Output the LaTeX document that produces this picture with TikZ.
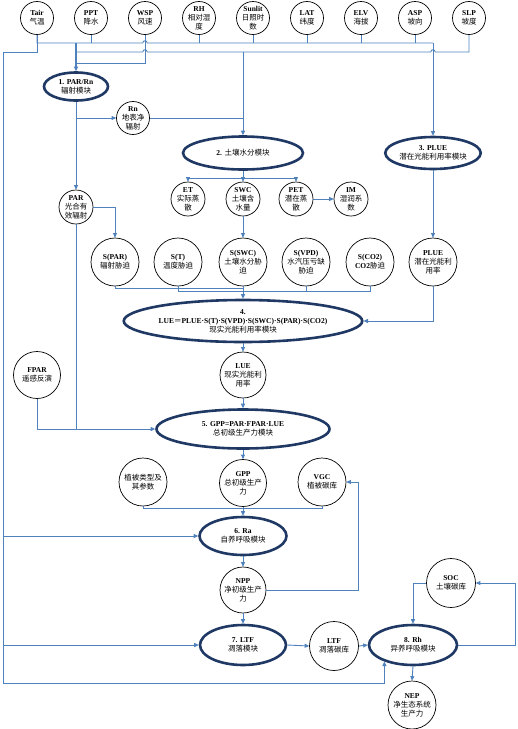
\documentclass[tikz,border=0pt]{standalone}
\usepackage{fontspec}
\setmainfont{Liberation Serif}
\newfontfamily\cjk{Noto Sans CJK SC}
\usetikzlibrary{shapes.geometric,arrows.meta}
\definecolor{navy}{RGB}{31,56,100}
\definecolor{lnk}{RGB}{79,129,189}
\newcommand{\zh}[1]{{\cjk\mdseries #1}}
\begin{document}
\begin{tikzpicture}[x=1pt,y=-1pt,
  font=\fontsize{7.5}{9}\selectfont\bfseries,
  circ/.style={circle,draw=black,line width=0.7pt,inner sep=0pt,minimum size=#1,align=center,fill=white},
  circ/.default=33,
  mod/.style={ellipse,draw=navy,line width=2.6pt,inner sep=0pt,align=center,fill=white},
  conn/.style={draw=lnk,line width=0.9pt},
  arr/.style={conn,-{Triangle[length=4.5pt,width=4pt]}}]
\useasboundingbox (0,0) rectangle (518,729);
% top row
\node[circ] (Tair) at (37,18) {Tair\\\zh{气温}};
\node[circ] (PPT) at (91,18) {PPT\\\zh{降水}};
\node[circ] (WSP) at (145,18) {WSP\\\zh{风速}};
\node[circ] (RH) at (199,18) {RH\\\zh{相对湿}\\\zh{度}};
\node[circ] (Sun) at (253,18) {Sunlit\\\zh{日照时}\\\zh{数}};
\node[circ] (LAT) at (307,18) {LAT\\\zh{纬度}};
\node[circ] (ELV) at (361,18) {ELV\\\zh{海拔}};
\node[circ] (ASP) at (415,18) {ASP\\\zh{坡向}};
\node[circ] (SLP) at (469,18) {SLP\\\zh{坡度}};
% modules
\node[mod,minimum width=64,minimum height=28] (E1) at (76,86.5) {1. PAR/Rn\\\zh{辐射模块}};
\node[mod,minimum width=120,minimum height=33] (E2) at (243,153) {2. \zh{土壤水分模块}};
\node[mod,minimum width=86,minimum height=32] (E3) at (433,153) {3. PLUE\\\zh{潜在光能利用率模块}};
\node[mod,minimum width=196,minimum height=42] (E4) at (243,321) {4.\\LUE\zh{＝}PLUE·S(T)·S(VPD)·S(SWC)·S(PAR)·S(CO2)\\\zh{现实光能利用率模块}};
\node[mod,minimum width=173,minimum height=39] (E5) at (243,429) {5. GPP=PAR·FPAR·LUE\\\zh{总初级生产力模块}};
\node[mod,minimum width=87,minimum height=38] (E6) at (243,536) {6. Ra\\\zh{自养呼吸模块}};
\node[mod,minimum width=86,minimum height=40] (E7) at (243,645) {7. LTF\\\zh{凋落模块}};
\node[mod,minimum width=88,minimum height=40] (E8) at (413,645) {8. Rh\\\zh{异养呼吸模块}};
% small circles
\node[circ] (Rn) at (133,118) {Rn\\\zh{地表净}\\\zh{辐射}};
\node[circ=34] (PAR) at (76,207) {PAR\\\zh{光合有}\\\zh{效辐射}};
\node[circ=34] (ET) at (188,199) {ET\\\zh{实际蒸}\\\zh{散}};
\node[circ=34] (SWC) at (243,199) {SWC\\\zh{土壤含}\\\zh{水量}};
\node[circ=34] (PET) at (296,199) {PET\\\zh{潜在蒸}\\\zh{散}};
\node[circ=34] (IM) at (351,199) {IM\\\zh{湿润系}\\\zh{数}};
% stress circles
\node[circ=48] (SPAR) at (115,262) {S(PAR)\\\zh{辐射胁迫}};
\node[circ=48] (ST) at (178,262) {S(T)\\\zh{温度胁迫}};
\node[circ=48] (SSWC) at (243,262) {S(SWC)\\\zh{土壤水分胁}\\\zh{迫}};
\node[circ=48] (SVPD) at (306,262) {S(VPD)\\\zh{水汽压亏缺}\\\zh{胁迫}};
\node[circ=48] (SCO2) at (370,262) {S(CO2)\\CO2\zh{胁迫}};
\node[circ=48] (PLUE) at (433,262) {PLUE\\\zh{潜在光能利}\\\zh{用率}};
\node[circ=47] (FPAR) at (37,375) {FPAR\\\zh{遥感反演}};
\node[circ=46] (LUE) at (243,375) {LUE\\\zh{现实光能利}\\\zh{用率}};
\node[circ=48] (Veg) at (143,482) {\zh{植被类型及}\\\zh{其参数}};
\node[circ=47] (GPP) at (243,483) {GPP\\\zh{总初级生产}\\\zh{力}};
\node[circ=48] (VGC) at (322,482) {VGC\\\zh{植被碳库}};
\node[circ=46] (NPP) at (243,590) {NPP\\\zh{净初级生产}\\\zh{力}};
\node[circ=49] (LTF) at (334,646) {LTF\\\zh{凋落碳库}};
\node[circ=49] (SOC) at (451,583) {SOC\\\zh{土壤碳库}};
\node[circ=48] (NEP) at (412,705) {NEP\\\zh{净生态系统}\\\zh{生产力}};
% coordinates
\coordinate (k0) at (76,43);
\coordinate (k1) at (76,63);
\coordinate (bus) at (433,43);
\coordinate (s52) at (243,52);
\coordinate (trunk) at (3,52);
\coordinate (tbot) at (3,683);
\coordinate (b2) at (243,178);
\coordinate (m4a) at (243,288);
\coordinate (m4b) at (243,291);
\coordinate (b6) at (243,508);
\coordinate (c7) at (358,590);
\coordinate (c8) at (515,645);
% top inputs
\foreach \n in {PPT,RH,Sun,LAT,ELV,ASP} \draw[conn] (\n.south) -- (\n.south |- bus);
\draw[conn] (Tair.south) |- (k0) -- (142.8,43) .. controls +(0,-3) and +(0,-3) .. (147.2,43) -- (bus);
\draw[conn] (Tair.south) |- (trunk) -- (tbot);
\draw[conn] (WSP.south) |- (k1);
\draw[conn] (SLP.south) |- (435.2,52) .. controls +(0,-3) and +(0,-3) .. (430.8,52) -- (147.2,52) .. controls +(0,-3) and +(0,-3) .. (142.8,52) -- (76,52);
\draw[arr,line width=1.5pt] (k0) -- (E1.north);
\draw[arr] (bus) -- (E3.north);
\draw[arr] (s52) -- (E2.north);
% module 1
\draw[arr] (E1.south) -- (PAR.north);
\draw[arr] (E1.south |- Rn.west) -- (Rn.west);
\draw[conn] (Rn.east) -- (Rn.east -| E2.north);
% module 2
\draw[arr] (E2.south) -- (SWC.north);
\draw[arr] (b2) -| (ET.north);
\draw[arr] (b2) -| (PET.north);
\draw[arr] (PET.east) -- (IM.west);
\draw[arr] (PAR.east) -| (SPAR.north);
\draw[arr] (SWC.south) -- (SSWC.north);
\draw[arr] (E3.south) -- (PLUE.north);
% stresses
\draw[conn] (SPAR.south) |- (m4a);
\draw[conn] (ST.south) |- (m4b);
\draw[conn] (SVPD.south) |- (m4b);
\draw[conn] (SCO2.south) |- (m4b);
\draw[arr] (SSWC.south) -- (E4.north);
\draw[arr] (PLUE.south) |- (E4.east);
\draw[arr] (E4.south) -- (LUE.north);
\draw[arr] (LUE.south) -- (E5.north);
\draw[conn] (FPAR.south) |- (PAR.south |- E5.west);
\draw[arr] (PAR.south) |- (E5.west);
\draw[arr] (E5.south) -- (GPP.north);
\draw[conn] (Veg.south) |- (b6);
\draw[conn] (VGC.south) |- (b6);
\draw[arr] (GPP.south) -- (E6.north);
\draw[arr] (trunk |- E6.west) -- (E6.west);
\draw[arr] (E6.south) -- (NPP.north);
\draw[arr] (NPP.east) -- (c7) |- (VGC.east);
\draw[arr] (NPP.south) -- (E7.north);
\draw[arr] (trunk |- E7.west) -- (E7.west);
\draw[arr] (E7.east) -- (LTF.west);
\draw[arr] (LTF.east) -- (E8.west);
\draw[arr] (E8.east) -- (c8) |- (SOC.east);
\draw[arr] (SOC.west) -| (E8.north);
\draw[arr] (E8.south) -- (NEP.north);
\draw[arr] (tbot) -| (E8.210);
\end{tikzpicture}
\end{document}
